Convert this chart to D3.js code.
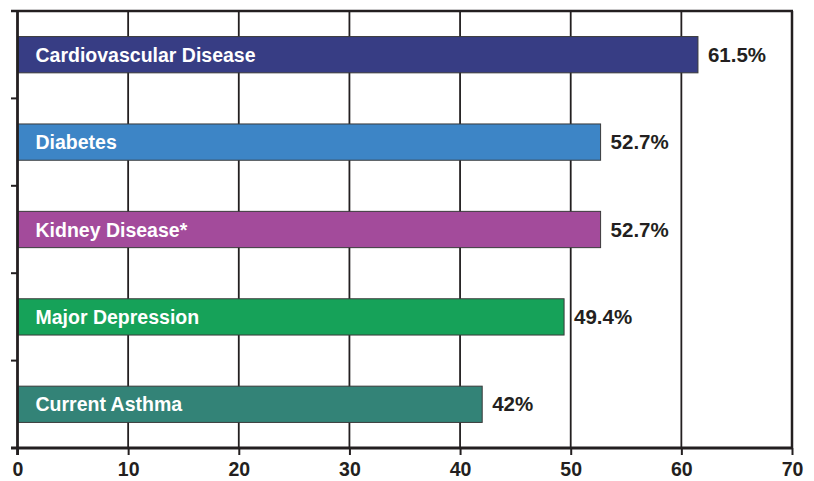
<!DOCTYPE html>
<html>
<head>
<meta charset="utf-8">
<script src="https://cdn.jsdelivr.net/npm/d3@7"></script>
<style>
	html, body { margin: 0; padding: 0; background: #fff; }
	#canvas { width: 814px; height: 481px; }
	text { font-family: 'Liberation Sans', Arial, sans-serif; font-weight: bold; }
</style>
</head>
<body>
<div id="canvas"></div>
<script>
const categories = ['Cardiovascular Disease', 'Diabetes', 'Kidney Disease*', 'Major Depression', 'Current Asthma'];
const values = [61.5, 52.7, 52.7, 49.4, 42];
const valueLabels = ['61.5%', '52.7%', '52.7%', '49.4%', '42%'];
const barColors = ['#373d84', '#3d85c6', '#a34b9b', '#16a259', '#338377'];
const xTicks = [0, 10, 20, 30, 40, 50, 60, 70];

const width = 814;
const height = 481;
const margins = { top: 11, right: 22, bottom: 33, left: 17.5 };

const svg = d3.select('#canvas').append('svg')
	.attr('width', width)
	.attr('height', height);

const x = d3.scaleLinear()
	.domain([0, 70])
	.range([margins.left, width - margins.right]);

const y = d3.scaleBand()
	.domain(categories)
	.range([margins.top, height - margins.bottom])
	.paddingInner(0)
	.paddingOuter(0);

const barH = y.bandwidth() * 0.415;

// vertical grid lines
svg.append('g')
	.selectAll('line')
	.data(xTicks.slice(1))
	.join('line')
	.attr('x1', d => x(d))
	.attr('x2', d => x(d))
	.attr('y1', margins.top)
	.attr('y2', height - margins.bottom)
	.attr('stroke', '#231f20')
	.attr('stroke-width', d => (d === 70 ? 2.5 : 1.8));

// top border
svg.append('line')
	.attr('x1', margins.left - 6.5)
	.attr('x2', x(70) + 1)
	.attr('y1', margins.top)
	.attr('y2', margins.top)
	.attr('stroke', '#231f20')
	.attr('stroke-width', 2.5);

// bars
const bars = svg.append('g')
	.selectAll('g')
	.data(categories)
	.join('g');

bars.append('rect')
	.attr('x', x(0))
	.attr('y', d => y(d) + y.bandwidth() / 2 - barH / 2)
	.attr('width', (d, i) => x(values[i]) - x(0))
	.attr('height', barH)
	.attr('fill', (d, i) => barColors[i])
	.attr('stroke', '#3a3a3a')
	.attr('stroke-width', 1);

bars.append('text')
	.attr('x', x(0) + 18)
	.attr('y', d => y(d) + y.bandwidth() / 2 + 7)
	.attr('fill', '#fff')
	.attr('font-size', 19.5)
	.text(d => d);

bars.append('text')
	.attr('x', (d, i) => x(values[i]) + 10)
	.attr('y', d => y(d) + y.bandwidth() / 2 + 7)
	.attr('fill', '#231f20')
	.attr('font-size', 20.5)
	.text((d, i) => valueLabels[i]);

// y axis (left) with ticks between categories
const yTickPos = categories.map(c => y(c)).concat([height - margins.bottom]);
svg.append('g')
	.selectAll('line')
	.data(yTickPos)
	.join('line')
	.attr('x1', margins.left - 6.5)
	.attr('x2', margins.left)
	.attr('y1', d => d)
	.attr('y2', d => d)
	.attr('stroke', '#231f20')
	.attr('stroke-width', 2);

svg.append('line')
	.attr('x1', margins.left)
	.attr('x2', margins.left)
	.attr('y1', margins.top - 1)
	.attr('y2', height - margins.bottom + 7)
	.attr('stroke', '#231f20')
	.attr('stroke-width', 2.8);

// x axis
const xAxis = svg.append('g')
	.attr('transform', `translate(0,${height - margins.bottom})`)
	.call(d3.axisBottom(x).tickValues(xTicks).tickSize(7).tickPadding(7));

xAxis.select('.domain')
	.attr('stroke', '#231f20')
	.attr('stroke-width', 2.8)
	.attr('d', `M${margins.left - 6.5},0H${x(70)}`);
xAxis.selectAll('.tick line')
	.attr('stroke', '#231f20')
	.attr('stroke-width', 2);
xAxis.selectAll('.tick text')
	.attr('fill', '#231f20')
	.attr('font-size', 19.5)
	.attr('font-family', "'Liberation Sans', Arial, sans-serif")
	.attr('font-weight', 'bold');
</script>
</body>
</html>
